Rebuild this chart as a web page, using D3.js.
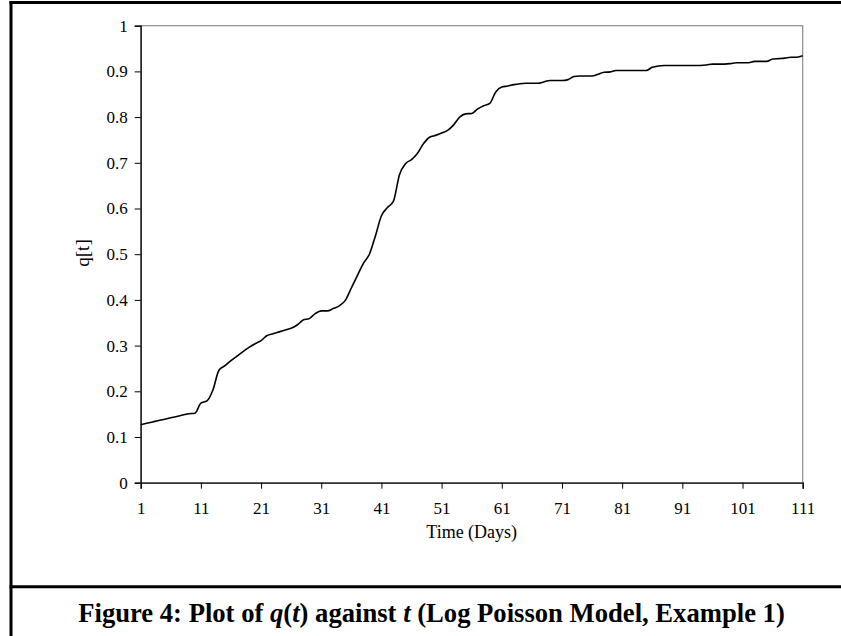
<!DOCTYPE html>
<html>
<head>
<meta charset="utf-8">
<script src="https://cdn.jsdelivr.net/npm/d3@7"></script>
<style>
html,body{margin:0;padding:0;background:#fff;}
svg{display:block;}
text{font-family:"Liberation Serif","Times New Roman",serif;fill:#000;}
</style>
</head>
<body>
<svg id="chart" width="841" height="636"></svg>
<script>
// ---- data ----
const qValues = [
0.127,0.130,0.133,0.136,0.139,0.142,0.145,0.148,0.151,0.152,
0.174,0.179,0.203,0.246,0.256,0.267,0.277,0.287,0.296,0.304,
0.311,0.322,0.326,0.330,0.334,0.338,0.345,0.356,0.359,0.370,
0.376,0.376,0.381,0.387,0.399,0.426,0.453,0.480,0.500,0.540,
0.584,0.602,0.616,0.674,0.698,0.707,0.721,0.742,0.756,0.760,
0.765,0.771,0.783,0.800,0.807,0.808,0.818,0.825,0.830,0.855,
0.866,0.868,0.871,0.873,0.874,0.874,0.874,0.877,0.880,0.880,
0.880,0.882,0.889,0.890,0.890,0.890,0.894,0.898,0.899,0.902,
0.902,0.902,0.902,0.902,0.902,0.909,0.912,0.913,0.913,0.913,
0.913,0.913,0.913,0.913,0.914,0.916,0.916,0.916,0.917,0.919,
0.919,0.919,0.922,0.922,0.922,0.927,0.928,0.929,0.931,0.931,
0.934];
const days = qValues.map((d, i) => i + 1);
const xTickValues = [1,11,21,31,41,51,61,71,81,91,101,111];
const yTickValues = [0,0.1,0.2,0.3,0.4,0.5,0.6,0.7,0.8,0.9,1];
const yTickLabels = ["0","0.1","0.2","0.3","0.4","0.5","0.6","0.7","0.8","0.9","1"];
const xTitle = "Time (Days)";
const yTitle = "q[t]";

// ---- layout ----
const svg = d3.select("#chart");
const L = 140.7, R = 802.7, T = 25.7, B = 482.7;
const FONT = '"Liberation Serif","Times New Roman",serif';

const x = d3.scaleLinear().domain([1, 111]).range([L, R]);
const y = d3.scaleLinear().domain([0, 1]).range([B, T]);

// outer frame
svg.append("line").attr("x1", 9.5).attr("x2", 841).attr("y1", 2.5).attr("y2", 2.5)
  .attr("stroke", "#000").attr("stroke-width", 3);
svg.append("line").attr("x1", 11).attr("x2", 11).attr("y1", 1).attr("y2", 636)
  .attr("stroke", "#000").attr("stroke-width", 3);
svg.append("line").attr("x1", 9.5).attr("x2", 841).attr("y1", 586.7).attr("y2", 586.7)
  .attr("stroke", "#000").attr("stroke-width", 3);

// plot area border (gray)
svg.append("rect").attr("x", L).attr("y", T).attr("width", R - L).attr("height", B - T)
  .attr("fill", "none").attr("stroke", "#8c8c8c").attr("stroke-width", 1.2);

// y axis
const yAxis = d3.axisLeft(y).tickValues(yTickValues)
  .tickFormat((d, i) => yTickLabels[i]).tickSize(6).tickPadding(7);
const gy = svg.append("g").attr("transform", `translate(${L},0)`).call(yAxis);
gy.select(".domain").attr("stroke", "#000").attr("stroke-width", 1.2);
gy.selectAll(".tick line").attr("stroke", "#000").attr("stroke-width", 1);
gy.selectAll(".tick text").attr("font-size", 17)
  .style("font-family", FONT).attr("fill", "#000");

// x axis
const xAxis = d3.axisBottom(x).tickValues(xTickValues).tickSize(6).tickPadding(13)
  .tickFormat(d => String(d));
const gx = svg.append("g").attr("transform", `translate(0,${B})`).call(xAxis);
gx.select(".domain").attr("stroke", "#333").attr("stroke-width", 1.6);
gx.selectAll(".tick line").attr("stroke", "#000").attr("stroke-width", 1);
gx.selectAll(".tick text").attr("font-size", 17)
  .style("font-family", FONT).attr("fill", "#000");

// line
const line = d3.line().x((d, i) => x(days[i])).y(d => y(d)).curve(d3.curveMonotoneX);
svg.append("path").datum(qValues).attr("d", line)
  .attr("fill", "none").attr("stroke", "#000").attr("stroke-width", 1.6)
  .attr("stroke-linejoin", "round");

// axis titles
svg.append("text").attr("x", (L + R) / 2).attr("y", 538).attr("text-anchor", "middle")
  .attr("font-size", 18).text(xTitle);
svg.append("text").attr("transform", "translate(89,253) rotate(-90)")
  .attr("text-anchor", "middle").attr("font-size", 19).text(yTitle);

// caption
const cap = svg.append("text").attr("x", 431.5).attr("y", 621.7).attr("text-anchor", "middle")
  .attr("font-size", 24).attr("font-weight", "bold");
cap.append("tspan").text("Figure 4: Plot of ");
cap.append("tspan").attr("font-style", "italic").text("q");
cap.append("tspan").text("(");
cap.append("tspan").attr("font-style", "italic").text("t");
cap.append("tspan").text(") against ");
cap.append("tspan").attr("font-style", "italic").text("t");
cap.append("tspan").text(" (Log Poisson Model, Example 1)");
const w = cap.node().getComputedTextLength();
cap.attr("font-size", 24 * 707 / w);
</script>
</body>
</html>
